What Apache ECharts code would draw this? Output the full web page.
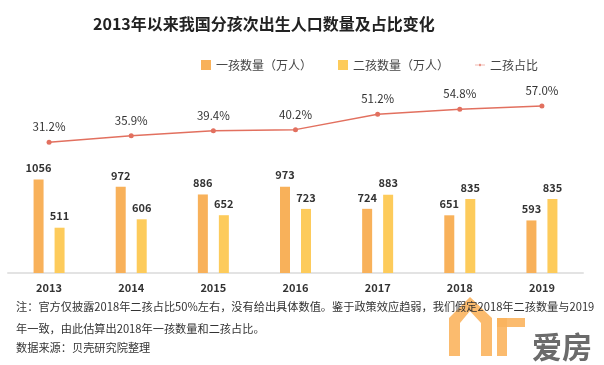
<!DOCTYPE html>
<html><head><meta charset="utf-8">
<script src="https://cdn.jsdelivr.net/npm/echarts@6/dist/echarts.min.js"></script>
<style>html,body{margin:0;padding:0;background:#fff}#c{width:604px;height:365px}</style>
</head><body><div id="c"></div>
<script>
var years = ['2013','2014','2015','2016','2017','2018','2019'];
var firstChild = [1056, 972, 886, 973, 724, 651, 593];
var secondChild = [511, 606, 652, 723, 883, 835, 835];
var secondShare = [31.2, 35.9, 39.4, 40.2, 51.2, 54.8, 57.0];
var notes = [
  '注：官方仅披露2018年二孩占比50%左右，没有给出具体数值。鉴于政策效应趋弱，我们假定2018年二孩数量与2019',
  '年一致，由此估算出2018年一孩数量和二孩占比。',
  '数据来源：贝壳研究院整理'
];
var FONT = '"Microsoft YaHei","Noto Sans CJK SC",sans-serif';
var chart = echarts.init(document.getElementById('c'));
chart.setOption({
  animation: false,
  textStyle: {fontFamily: FONT},
  title: {
    text: '2013年以来我国分孩次出生人口数量及占比变化',
    left: 88, top: 11,
    textStyle: {fontSize: 16, fontWeight: 'bold', color: '#222', fontFamily: FONT}
  },
  legend: {
    top: 54, left: 196, itemGap: 26, itemWidth: 10, itemHeight: 10,
    textStyle: {fontSize: 12, color: '#444', fontFamily: FONT},
    data: [
      {name: '一孩数量（万人）', icon: 'rect'},
      {name: '二孩数量（万人）', icon: 'rect'},
      {name: '二孩占比', icon: 'path://M0,4.5L24,4.5L24,5.5L0,5.5Z M9,5A3,3 0 1,0 15,5A3,3 0 1,0 9,5Z', itemStyle: {}}
    ]
  },
  grid: {left: 8, right: 21, top: 78, bottom: 92},
  xAxis: {
    type: 'category', data: years,
    axisLine: {lineStyle: {color: '#e3e3e3', width: 2}},
    axisTick: {show: false},
    axisLabel: {fontSize: 11, fontWeight: 'bold', color: '#333', margin: 9}
  },
  yAxis: [
    {type: 'value', min: 0, max: 2200, show: false, splitLine: {show: false}},
    {type: 'value', min: -62, max: 77, show: false, splitLine: {show: false}}
  ],
  series: [
    {
      name: '一孩数量（万人）', type: 'bar', data: firstChild, barWidth: 10, barGap: '110%',
      itemStyle: {color: '#F8B15A'},
      label: {show: true, position: 'top', distance: 6, fontSize: 11, fontWeight: 'bold', color: '#333'}
    },
    {
      name: '二孩数量（万人）', type: 'bar', data: secondChild, barWidth: 10,
      itemStyle: {color: '#FDCB5B'},
      label: {show: true, position: 'top', distance: 6, fontSize: 11, fontWeight: 'bold', color: '#333'}
    },
    {
      name: '二孩占比', type: 'line', yAxisIndex: 1, data: secondShare,
      symbol: 'circle', symbolSize: 5,
      lineStyle: {color: '#E2705F', width: 1.5},
      itemStyle: {color: '#E2705F'},
      label: {show: true, position: 'top', distance: 7, fontSize: 11.5, color: '#333',
        formatter: function (p) { return p.value.toFixed(1) + '%'; }}
    }
  ],
  graphic: [
    {type: 'polygon', shape: {points: [[449,356],[449,318],[470,297],[492,318],[492,356],[481,356],[481,323],[470,311],[460,323],[460,356]]}, style: {fill: '#FBB45E', opacity: 0.9}},
    {type: 'rect', shape: {x: 497, y: 318, width: 10, height: 38}, style: {fill: '#FBB45E', opacity: 0.9}},
    {type: 'rect', shape: {x: 497, y: 318, width: 28, height: 9}, style: {fill: '#FBB45E', opacity: 0.9}},
    {type: 'text', left: 16, top: 301, style: {text: notes[0], font: '11.2px ' + FONT, fill: '#333'}},
    {type: 'text', left: 16, top: 323, style: {text: notes[1], font: '11.2px ' + FONT, fill: '#333'}},
    {type: 'text', left: 16, top: 342, style: {text: notes[2], font: '11.2px ' + FONT, fill: '#333'}},
    {type: 'text', left: 532, top: 332, style: {text: '爱房', font: 'bold 30px ' + FONT, fill: '#6b6b6b'}}
  ]
});
</script></body></html>
